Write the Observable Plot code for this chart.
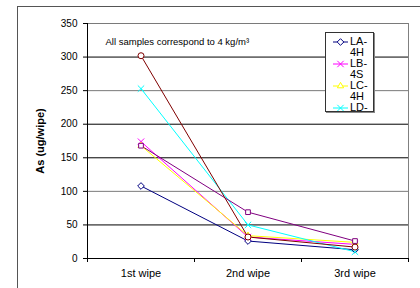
<!DOCTYPE html>
<html>
<head>
<meta charset="utf-8">
<script src="https://cdn.jsdelivr.net/npm/d3@7"></script>
<script src="https://cdn.jsdelivr.net/npm/@observablehq/plot@0.6"></script>
<style>
  html, body { margin: 0; padding: 0; background: #fff; }
  #wrap { position: relative; width: 420px; height: 288px; overflow: hidden; font-family: "Liberation Sans", Arial, sans-serif; }
  #frame { position: absolute; left: 17px; top: 6px; width: 600px; height: 400px; border: 1px solid #555; }
  #chart { position: absolute; left: 0; top: 0; }
  #chart svg { background: transparent; }
  g[aria-label="y-axis label"] text { font-weight: bold; font-size: 11px; }
  #legend { position: absolute; left: 325px; top: 32px; width: 49px; height: 80px; border: 1px solid #333;
            background: #fff; overflow: hidden; box-shadow: 1px 1px 0 #888; box-sizing: border-box; padding-top: 3px; }
  .entry { position: relative; height: 22px; }
  .entry svg { position: absolute; left: 7px; top: 1px; }
  .entry .txt { position: absolute; left: 24px; top: 0; font-size: 11px; line-height: 11px; color: #000; }
</style>
</head>
<body>
<div id="wrap">
  <div id="frame"></div>
  <div id="chart"></div>
  <div id="legend"></div>
</div>
<script>
const categories = ["1st wipe", "2nd wipe", "3rd wipe"];
const seriesNames = ["LA-4H", "LB-4S", "LC-4H", "LD-4S", "LE-4S", "LF-4H"];
const LA = [108, 26, 13];
const LB = [174, 32, 21];
const LC = [168, 34, 24];
const LD = [253, 50, 10];
const LE = [168, 69, 26];
const LF = [302, 32, 17];
const seriesValues = [LA, LB, LC, LD, LE, LF];
// legend is truncated in the original: only these labels are visible
const legendLabels = [["LA-", "4H"], ["LB-", "4S"], ["LC-", "4H"], ["LD-"]];
const yTicks = [0, 50, 100, 150, 200, 250, 300, 350];
const note = "All samples correspond to 4 kg/m³";
const yLabel = "As (ug/wipe)";

const colors = ["#000080", "#FF00FF", "#FFFF00", "#00FFFF", "#800080", "#800000"];
const symbols = ["diamond2", "times", "triangle2", "times", "square2", "circle"];

const data = seriesNames.flatMap((s, i) =>
  seriesValues[i].map((v, j) => ({series: s, pos: j + 1, value: v}))
);
const grayGrid = new Set([250, 100, 350]);

const chart = Plot.plot({
  width: 420,
  height: 288,
  marginLeft: 87,
  marginRight: 12,
  marginTop: 23,
  marginBottom: 30,
  style: {fontFamily: "'Liberation Sans', Arial, sans-serif", fontSize: "10px", color: "#000"},
  x: {domain: [0.5, categories.length + 0.5]},
  y: {domain: [0, 350]},
  color: {domain: seriesNames, range: colors},
  symbol: {domain: seriesNames, range: symbols},
  marks: [
    Plot.ruleY(yTicks.filter(d => d > 0), {stroke: d => grayGrid.has(d) ? "#7a7a7a" : "#000", strokeWidth: 1}),
    Plot.ruleX([categories.length + 0.5], {stroke: "#808080"}),
    Plot.line(data, {x: "pos", y: "value", z: "series", stroke: "series", strokeWidth: 1}),
    Plot.dot(data, {x: "pos", y: "value", stroke: "series", symbol: "series", fill: "white", r: 3, strokeWidth: 1}),
    Plot.text([note], {frameAnchor: "top-left", dx: 18, dy: 15, textAnchor: "start", lineAnchor: "top", fontSize: 9.5, fill: "#000"}),
    Plot.axisY({ticks: yTicks, tickSize: 4, tickPadding: 6, fontSize: 10, label: yLabel, labelAnchor: "center", labelArrow: "none", labelOffset: 51}),
    Plot.axisX({ticks: categories.map((c, i) => i + 1), tickFormat: d => categories[d - 1], tickSize: 0, tickPadding: 11, fontSize: 11, label: null}),
    Plot.axisX({ticks: d3.range(categories.length + 1).map(i => i + 0.5), tickFormat: () => "", tickSize: 4, label: null}),
    Plot.ruleY([0], {stroke: "#000"}),
    Plot.ruleX([0.5], {stroke: "#000"})
  ]
});
document.getElementById("chart").appendChild(chart);

const symTypes = {diamond2: d3.symbolDiamond2, times: d3.symbolTimes, triangle2: d3.symbolTriangle2,
                  square2: d3.symbolSquare2, circle: d3.symbolCircle};
const legend = d3.select("#legend");
legendLabels.forEach((lines, i) => {
  const e = legend.append("div").attr("class", "entry");
  const svg = e.append("svg").attr("width", 16).attr("height", 10);
  svg.append("line").attr("x1", 0).attr("x2", 15).attr("y1", 5).attr("y2", 5)
    .attr("stroke", colors[i]).attr("stroke-width", 1);
  svg.append("path").attr("d", d3.symbol(symTypes[symbols[i]], 28)())
    .attr("transform", "translate(7.5,5)")
    .attr("fill", "white").attr("stroke", colors[i]).attr("stroke-width", 1);
  e.append("div").attr("class", "txt").html(lines.join("<br>"));
});
</script>
</body>
</html>
